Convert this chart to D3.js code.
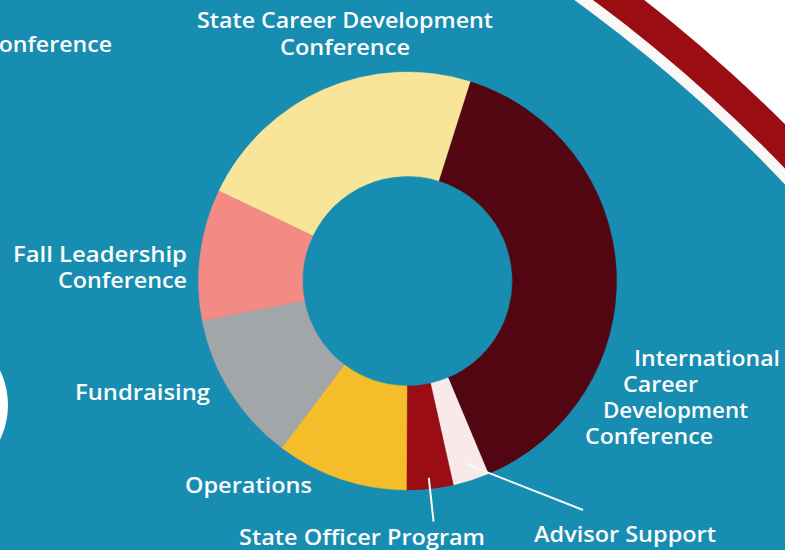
<!DOCTYPE html>
<html>
<head>
<meta charset="utf-8">
<script src="https://cdn.jsdelivr.net/npm/d3@7/dist/d3.min.js"></script>
<style>
  html, body { margin: 0; padding: 0; background: #ffffff; }
  svg { display: block; }
  text { font-family: "Open Sans", "DejaVu Sans", sans-serif; font-weight: 600; fill: #fbfbfb; }
</style>
</head>
<body>
<svg id="chart" width="785" height="550"></svg>
<script>
// ---- data ----
const categories = [
  "State Career Development Conference",
  "International Career Development Conference",
  "Advisor Support",
  "State Officer Program",
  "Operations",
  "Fundraising",
  "Fall Leadership Conference"
];
const values = [22.8, 38.8, 2.8, 3.6, 10.2, 11.7, 10.1];
const sliceColors = ["#F9E59A", "#520612", "#F9EAEA", "#990D13", "#F6BD2B", "#A3A6A8", "#F38B84"];

// label lines for each category (layout only)
const labelLines = [
  ["State Career Development", "Conference"],
  ["International", "Career", "Development", "Conference"],
  ["Advisor Support"],
  ["State Officer Program"],
  ["Operations"],
  ["Fundraising"],
  ["Fall Leadership", "Conference"]
];

// ---- layout ----
const W = 785, H = 550;
const cx = 407.5, cy = 281;
const rOuter = 209, rInner = 105;
const svg = d3.select("#chart");

// background
svg.append("rect").attr("width", W).attr("height", H).attr("fill", "#ffffff");
const bigC = { x: -304, y: 1216 };
svg.append("circle").attr("cx", bigC.x).attr("cy", bigC.y).attr("r", 1542).attr("fill", "#990D13");
svg.append("circle").attr("cx", bigC.x).attr("cy", bigC.y).attr("r", 1511).attr("fill", "#FAF8F6");
svg.append("circle").attr("cx", bigC.x).attr("cy", bigC.y).attr("r", 1500).attr("fill", "#178DB2");
svg.append("circle").attr("cx", -72).attr("cy", 405).attr("r", 80).attr("fill", "#ffffff");

// cut-off label from the slide at top-left (cut off in the reference too)
svg.append("text").attr("x", 112).attr("y", 52).attr("text-anchor", "end")
  .attr("font-size", 21).attr("textLength", 128).attr("lengthAdjust", "spacingAndGlyphs")
  .text("Conference");

// ---- donut ----
const deg = Math.PI / 180;
const pie = d3.pie().sort(null).value(d => d.v)
  .startAngle(-64.5 * deg).endAngle(295.5 * deg);
const arcs = pie(values.map((v, i) => ({ v, i })));
const arc = d3.arc().innerRadius(rInner).outerRadius(rOuter);
const g = svg.append("g").attr("transform", `translate(${cx},${cy})`);
g.selectAll("path").data(arcs).join("path")
  .attr("d", arc)
  .attr("fill", d => sliceColors[d.data.i])
  .attr("stroke", d => sliceColors[d.data.i])
  .attr("stroke-width", 0.5);

// ---- labels ----
// per-label: lines with [x, baseline, anchor, width]
const labelPos = [
  [[345, 28, "middle", 296], [345, 55, "middle", 130]],
  [[634, 366, "start", 146], [623, 392, "start", 75], [603, 418, "start", 145], [585, 444, "start", 128]],
  [[534, 542, "start", 182]],
  [[239, 545, "start", 246]],
  [[185, 493, "start", 127]],
  [[75, 400, "start", 135]],
  [[187, 262, "end", 174], [187, 288, "end", 129]]
];
labelLines.forEach((lines, i) => {
  lines.forEach((t, j) => {
    const p = labelPos[i][j];
    svg.append("text")
      .attr("x", p[0]).attr("y", p[1])
      .attr("text-anchor", p[2])
      .attr("font-size", 21)
      .attr("textLength", p[3]).attr("lengthAdjust", "spacingAndGlyphs")
      .text(t);
  });
});

// ---- leader lines ----
function polar(a, r) { return [cx + r * Math.sin(a), cy - r * Math.cos(a)]; }
const mid = d => (d.startAngle + d.endAngle) / 2;
// State Officer Program: radial
const so = arcs[3];
const s1 = polar(mid(so), 198), s2 = polar(mid(so), 242);
svg.append("line").attr("x1", s1[0]).attr("y1", s1[1]).attr("x2", s2[0]).attr("y2", s2[1])
  .attr("stroke", "#fbfbfb").attr("stroke-width", 2);
// Advisor Support
const ad = arcs[2];
const a1 = polar(mid(ad), 192);
svg.append("line").attr("x1", a1[0]).attr("y1", a1[1]).attr("x2", 534 + 49).attr("y2", 542 - 32)
  .attr("stroke", "#fbfbfb").attr("stroke-width", 2);
</script>
</body>
</html>
